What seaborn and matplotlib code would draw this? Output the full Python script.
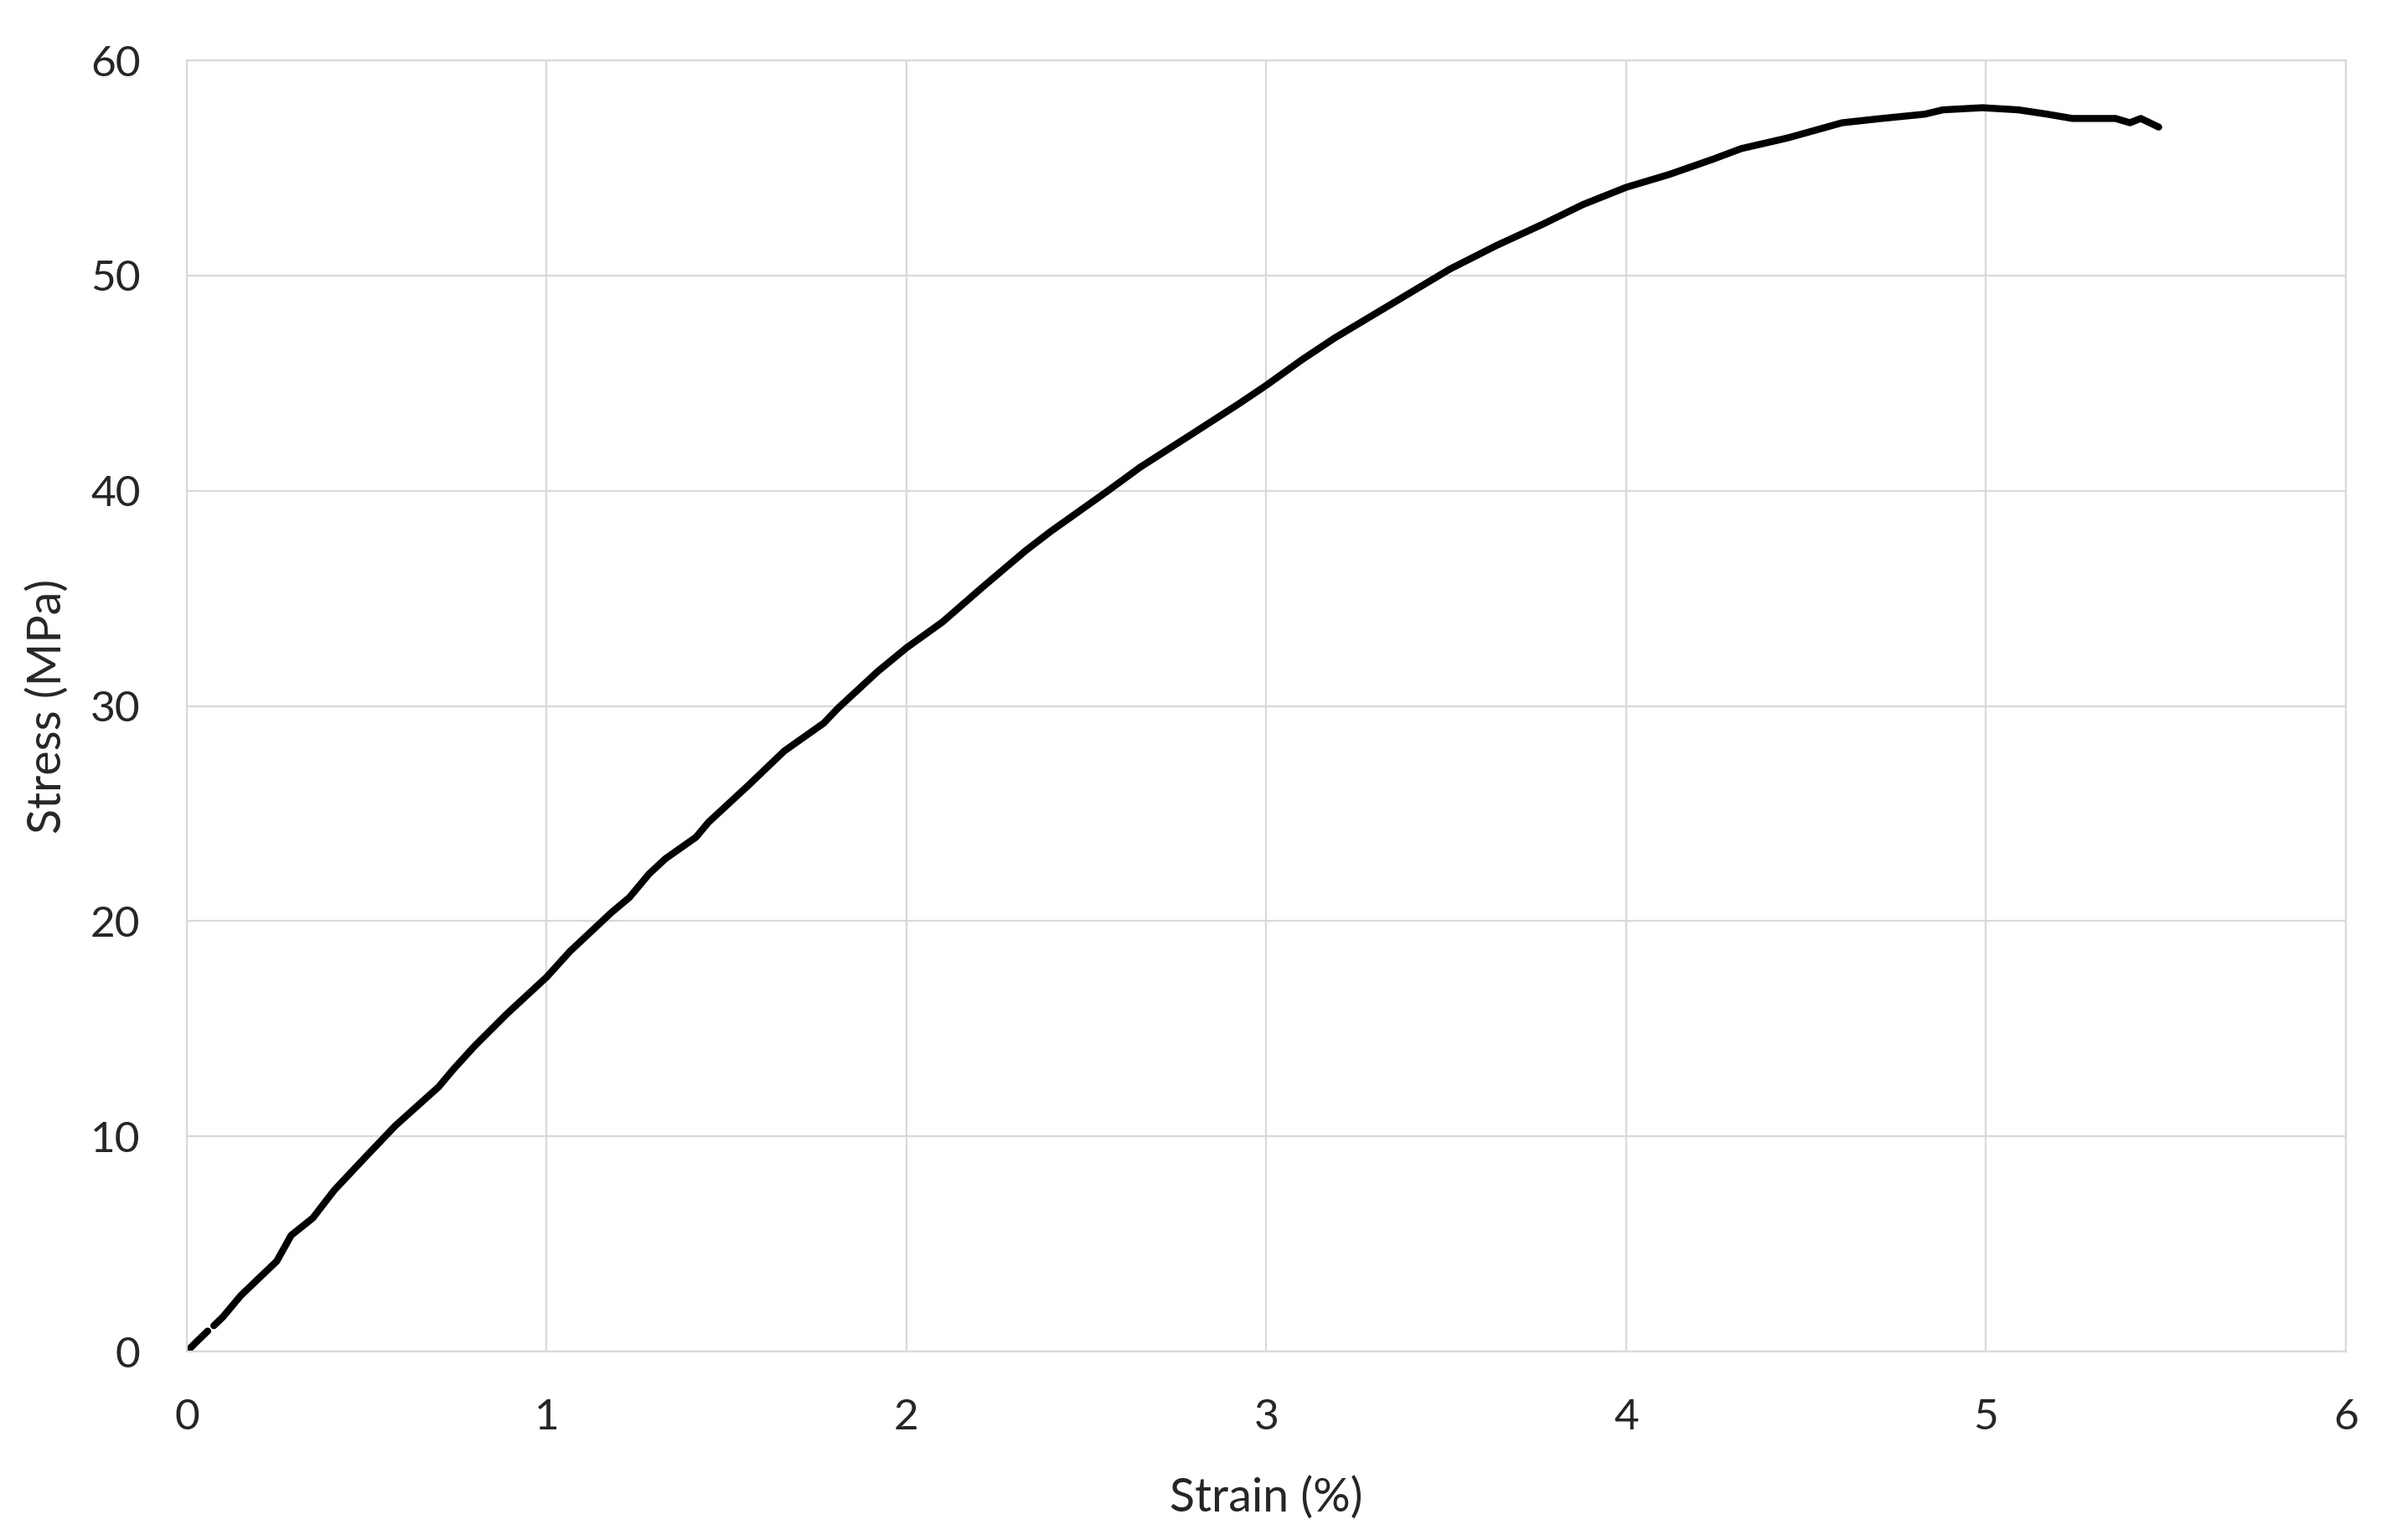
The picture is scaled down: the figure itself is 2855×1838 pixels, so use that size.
import matplotlib
matplotlib.use("Agg")
import matplotlib.pyplot as plt
import pandas as pd
import seaborn as sns

# values (strain in %, stress in MPa)
# the first short piece is drawn separately: the original line has a small break there
strain_start = [0.00, 0.03, 0.058]
stress_start = [0.0, 0.5, 0.95]

strain = [0.075, 0.10, 0.15, 0.20, 0.25, 0.29, 0.35, 0.41, 0.50, 0.58,
          0.70, 0.74, 0.80, 0.89, 1.00, 1.065, 1.18, 1.23, 1.285, 1.33,
          1.415, 1.45, 1.56, 1.66, 1.77, 1.81, 1.92, 2.00, 2.10, 2.21,
          2.33, 2.40, 2.56, 2.65, 2.79, 2.92, 3.00, 3.10, 3.19, 3.31,
          3.39, 3.51, 3.64, 3.77, 3.88, 4.00, 4.12, 4.24, 4.32, 4.45,
          4.60, 4.71, 4.83, 4.88, 4.99, 5.09, 5.17, 5.24, 5.36, 5.40,
          5.43, 5.48]
stress = [1.2, 1.6, 2.6, 3.4, 4.2, 5.4, 6.2, 7.5, 9.1, 10.5,
          12.3, 13.1, 14.2, 15.7, 17.4, 18.6, 20.4, 21.1, 22.2, 22.9,
          23.9, 24.6, 26.3, 27.9, 29.2, 29.9, 31.6, 32.7, 33.9, 35.5,
          37.2, 38.1, 40.0, 41.1, 42.6, 44.0, 44.9, 46.1, 47.1, 48.3,
          49.1, 50.3, 51.4, 52.4, 53.3, 54.1, 54.7, 55.4, 55.9, 56.4,
          57.1, 57.3, 57.5, 57.7, 57.8, 57.7, 57.5, 57.3, 57.3, 57.1,
          57.3, 56.9]

x_ticks = [0, 1, 2, 3, 4, 5, 6]
y_ticks = [0, 10, 20, 30, 40, 50, 60]

df = pd.concat([
    pd.DataFrame({"strain": strain_start, "stress": stress_start, "seg": 0}),
    pd.DataFrame({"strain": strain, "stress": stress, "seg": 1}),
], ignore_index=True)

sns.set_theme(style="whitegrid")
plt.rcParams["font.family"] = ["Lato", "DejaVu Sans"]

grid_col = "#d9d9d9"
text_col = "#262626"

fig = plt.figure(figsize=(28.55, 18.38), dpi=100)
ax = fig.add_axes([0.0781, 0.1224, 0.9026, 0.8384])

sns.lineplot(data=df, x="strain", y="stress", units="seg", estimator=None,
             sort=False, color="black", linewidth=6, ax=ax,
             solid_capstyle="round", solid_joinstyle="round")

ax.set_xlim(0, 6)
ax.set_ylim(0, 60)
ax.set_xticks(x_ticks)
ax.set_yticks(y_ticks)
ax.set_xticklabels([str(v) for v in x_ticks])
ax.set_yticklabels([str(v) for v in y_ticks])

ax.grid(True, color=grid_col, linewidth=1.6)
for s in ax.spines.values():
    s.set_visible(True)
    s.set_color(grid_col)
    s.set_linewidth(1.6)

ax.tick_params(axis="both", length=0, labelsize=37, colors=text_col)
ax.tick_params(axis="x", pad=40)
ax.tick_params(axis="y", pad=40)

ax.set_xlabel("Strain (%)", fontsize=40, color=text_col, labelpad=34)
ax.set_ylabel("Stress (MPa)", fontsize=40, color=text_col, labelpad=18)

fig.savefig("out.png", dpi=100, facecolor="white")
plt.close(fig)
